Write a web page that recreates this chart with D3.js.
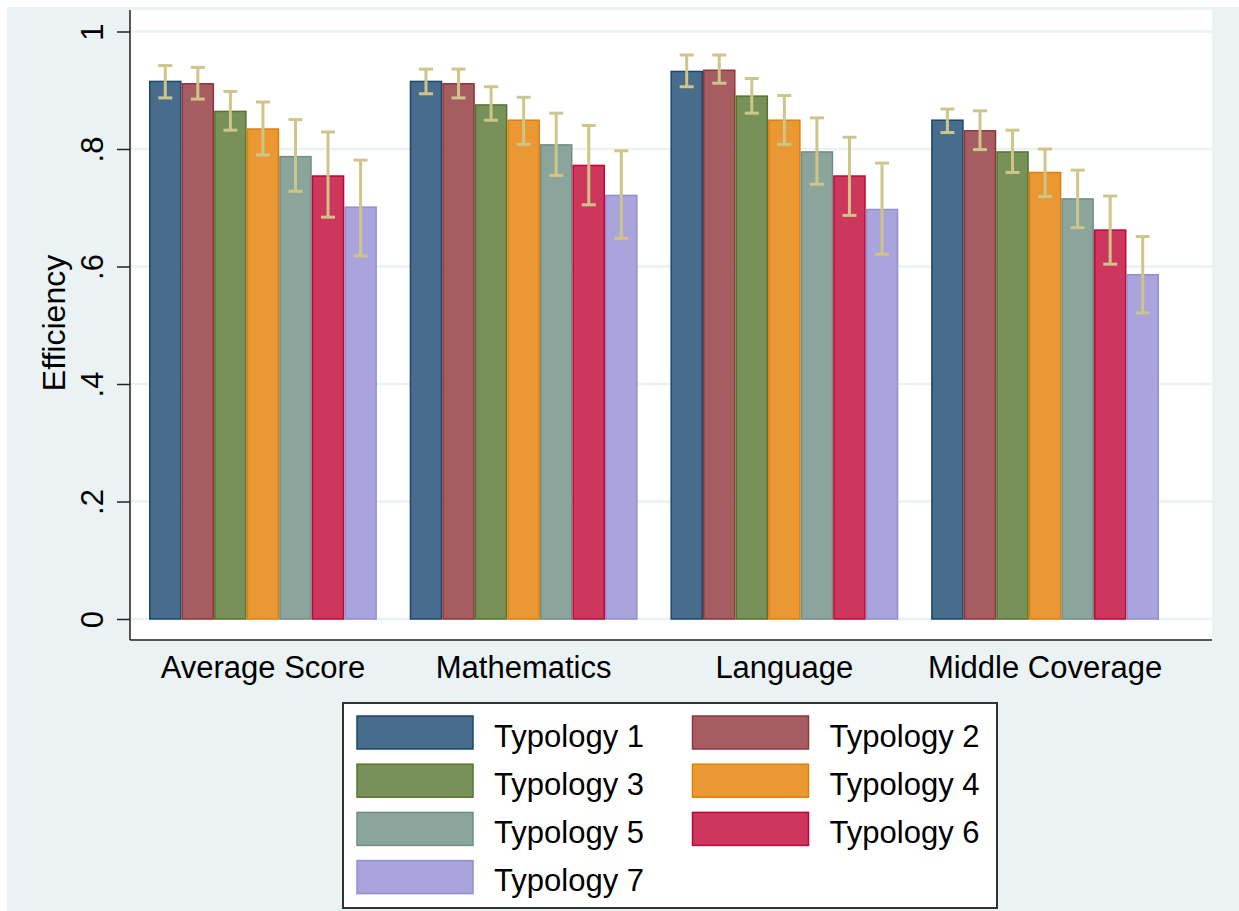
<!DOCTYPE html>
<html>
<head>
<meta charset="utf-8">
<script src="https://cdnjs.cloudflare.com/ajax/libs/d3/7.8.5/d3.min.js"></script>
<style>
  body { margin: 0; background: #fff; }
  text { font-family: "Liberation Sans", Arial, sans-serif; fill: #000; }
</style>
</head>
<body>
<div id="graph"></div>
<script>
"use strict";

// categories
const outcomes = ["Average Score", "Mathematics", "Language", "Middle Coverage"];
const typologies = ["Typology 1", "Typology 2", "Typology 3", "Typology 4",
                    "Typology 5", "Typology 6", "Typology 7"];

// mean efficiency per typology, one array per outcome
const meanAverage  = [0.915, 0.911, 0.864, 0.834, 0.787, 0.754, 0.701];
const meanMath     = [0.915, 0.911, 0.875, 0.849, 0.807, 0.772, 0.721];
const meanLanguage = [0.932, 0.934, 0.890, 0.849, 0.795, 0.754, 0.697];
const meanCoverage = [0.849, 0.831, 0.795, 0.760, 0.715, 0.662, 0.586];

// confidence interval bounds
const hiAverage  = [0.942, 0.939, 0.898, 0.880, 0.850, 0.829, 0.781];
const loAverage  = [0.887, 0.885, 0.832, 0.790, 0.728, 0.684, 0.618];
const hiMath     = [0.936, 0.936, 0.906, 0.888, 0.861, 0.840, 0.797];
const loMath     = [0.894, 0.887, 0.849, 0.808, 0.755, 0.705, 0.648];
const hiLanguage = [0.960, 0.960, 0.920, 0.891, 0.853, 0.820, 0.776];
const loLanguage = [0.906, 0.912, 0.861, 0.808, 0.740, 0.687, 0.621];
const hiCoverage = [0.868, 0.865, 0.832, 0.800, 0.764, 0.720, 0.651];
const loCoverage = [0.828, 0.799, 0.760, 0.719, 0.666, 0.604, 0.521];

const yTicks = [0, 0.2, 0.4, 0.6, 0.8, 1];

// stata s2color look
const fills    = ["#486c8c", "#a65d62", "#779159", "#e99833", "#8ba59d", "#cd375d", "#a9a4db"];
const outlines = ["#1a476f", "#90353b", "#55752f", "#e37e00", "#6e8e84", "#c10534", "#938dd2"];
const ciColor = "#cec58a";
const bgColor = "#eaf2f3";

const width = 1239,
      height = 911;

const plot = { left: 130, right: 1212, top: 10, bottom: 640 };

const rows = outcomes.map((o, i) => ({
    outcome: o,
    mean: [meanAverage, meanMath, meanLanguage, meanCoverage][i],
    hi: [hiAverage, hiMath, hiLanguage, hiCoverage][i],
    lo: [loAverage, loMath, loLanguage, loCoverage][i]
}));

const svg = d3.select("#graph")
    .append("svg")
    .attr("width", width)
    .attr("height", height);

svg.append("rect")
    .attr("x", 7).attr("y", 7)
    .attr("width", width - 7).attr("height", height - 7)
    .attr("fill", bgColor);

svg.append("rect")
    .attr("x", plot.left).attr("y", plot.top)
    .attr("width", plot.right - plot.left).attr("height", plot.bottom - plot.top)
    .attr("fill", "#fff");

let y = d3.scaleLinear().domain([0, 1]).range([619, 31.5]);

let x0 = d3.scaleBand()
    .domain(outcomes)
    .range([149, 1159])
    .paddingInner(0.126)
    .paddingOuter(0);

let x1 = d3.scaleBand()
    .domain(typologies)
    .range([0, x0.bandwidth()])
    .padding(0);

// gridlines
svg.append("g").selectAll("line")
    .data(yTicks)
    .enter()
    .append("line")
    .attr("x1", plot.left).attr("x2", plot.right)
    .attr("y1", d => y(d)).attr("y2", d => y(d))
    .attr("stroke", bgColor)
    .attr("stroke-width", 2.5);

// bars
let groups = svg.append("g").selectAll(".grp")
    .data(rows)
    .enter()
    .append("g")
    .attr("transform", d => "translate(" + x0(d.outcome) + ",0)");

groups.selectAll("rect")
    .data(d => d.mean.map((v, i) => ({ t: typologies[i], v: v, i: i })))
    .enter()
    .append("rect")
    .attr("x", d => x1(d.t) + 0.75)
    .attr("width", x1.bandwidth() - 1.5)
    .attr("y", d => y(d.v))
    .attr("height", d => y(0) - y(d.v))
    .attr("fill", d => fills[d.i])
    .attr("stroke", d => outlines[d.i])
    .attr("stroke-width", 1.5);

// error bars
let cis = groups.selectAll(".ci")
    .data(d => d.mean.map((v, i) => ({ t: typologies[i], lo: d.lo[i], hi: d.hi[i] })))
    .enter()
    .append("g")
    .attr("transform", d => "translate(" + (x1(d.t) + x1.bandwidth() / 2) + ",0)");

cis.append("line")
    .attr("x1", 0).attr("x2", 0)
    .attr("y1", d => y(d.lo)).attr("y2", d => y(d.hi))
    .attr("stroke", ciColor).attr("stroke-width", 3);

cis.append("line")
    .attr("x1", -7).attr("x2", 7)
    .attr("y1", d => y(d.hi)).attr("y2", d => y(d.hi))
    .attr("stroke", ciColor).attr("stroke-width", 3);

cis.append("line")
    .attr("x1", -7).attr("x2", 7)
    .attr("y1", d => y(d.lo)).attr("y2", d => y(d.lo))
    .attr("stroke", ciColor).attr("stroke-width", 3);

// y axis
let fmt = d => (d === 0 || d === 1) ? String(d) : d.toFixed(1).replace(/^0/, "");

let yAxis = svg.append("g")
    .attr("transform", "translate(" + plot.left + ",0)")
    .call(d3.axisLeft(y).tickValues(yTicks).tickSize(13).tickSizeOuter(0).tickFormat(fmt));

yAxis.select(".domain").remove();
yAxis.selectAll(".tick line").attr("stroke", "#222").attr("stroke-width", 1.5);
yAxis.selectAll(".tick text")
    .attr("transform", "rotate(-90)")
    .attr("x", 0)
    .attr("y", -27)
    .attr("dy", 0)
    .attr("text-anchor", "middle")
    .style("font-size", "31px")
    .style("font-family", "'Liberation Sans', Arial, sans-serif")
    .attr("fill", "#000");

svg.append("line")
    .attr("x1", plot.left).attr("x2", plot.left)
    .attr("y1", plot.top).attr("y2", plot.bottom)
    .attr("stroke", "#222").attr("stroke-width", 1.5);

svg.append("line")
    .attr("x1", plot.left).attr("x2", plot.right)
    .attr("y1", plot.bottom).attr("y2", plot.bottom)
    .attr("stroke", "#222").attr("stroke-width", 1.5);

svg.append("text")
    .attr("transform", "translate(65," + ((plot.top + plot.bottom) / 2 - 2) + ") rotate(-90)")
    .attr("text-anchor", "middle")
    .style("font-size", "32px")
    .text("Efficiency");

// x labels
svg.append("g").selectAll("text")
    .data(outcomes)
    .enter()
    .append("text")
    .attr("x", d => x0(d) + x0.bandwidth() / 2)
    .attr("y", 678)
    .attr("text-anchor", "middle")
    .style("font-size", "31px")
    .text(d => d);

// legend
const legend = { x: 343, y: 703, w: 654, h: 205 };

svg.append("rect")
    .attr("x", legend.x).attr("y", legend.y)
    .attr("width", legend.w).attr("height", legend.h)
    .attr("fill", "#fff")
    .attr("stroke", "#333")
    .attr("stroke-width", 2);

let items = svg.append("g").selectAll(".item")
    .data(typologies)
    .enter()
    .append("g")
    .attr("transform", (d, i) => "translate(" + (i % 2 === 0 ? 357 : 692.5) + "," + (716 + Math.floor(i / 2) * 48.2) + ")");

items.append("rect")
    .attr("width", 116)
    .attr("height", 33)
    .attr("fill", (d, i) => fills[i])
    .attr("stroke", (d, i) => outlines[i])
    .attr("stroke-width", 1.5);

items.append("text")
    .attr("x", 137)
    .attr("y", 30.5)
    .style("font-size", "32px")
    .attr("textLength", 150)
    .attr("lengthAdjust", "spacingAndGlyphs")
    .text(d => d);
</script>
</body>
</html>
